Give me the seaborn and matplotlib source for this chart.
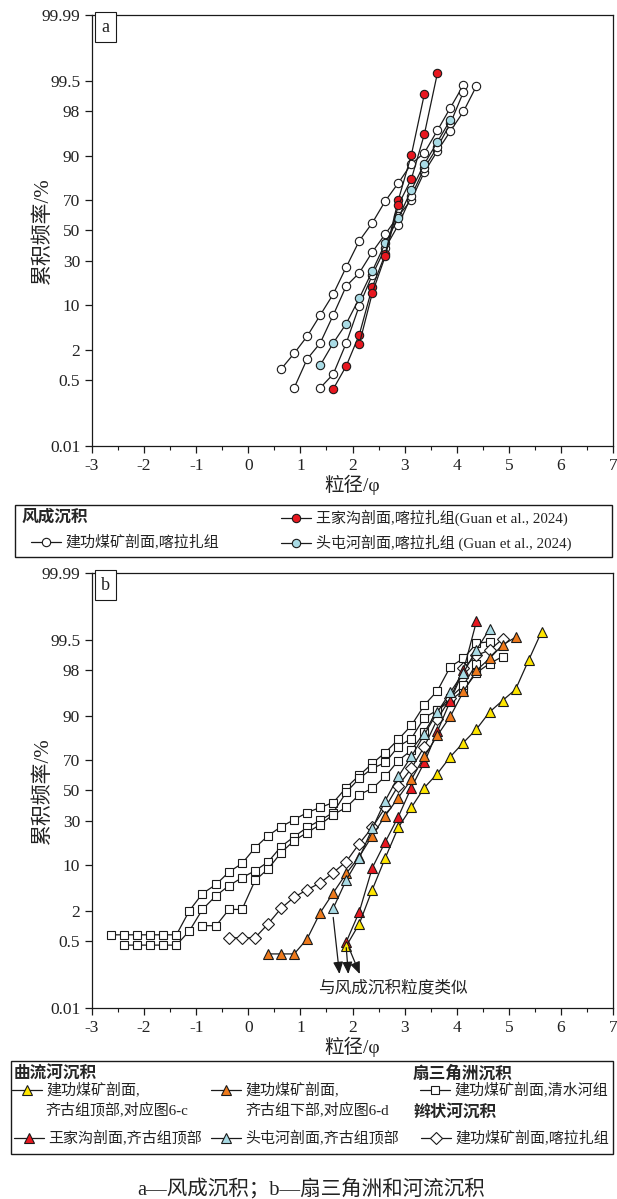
import numpy as np
import pandas as pd
import matplotlib
matplotlib.use("Agg")
import matplotlib.pyplot as plt
from matplotlib.lines import Line2D
from matplotlib.patches import Rectangle
import seaborn as sns
from statistics import NormalDist

# style first, fonts after (set_theme resets font.family)
sns.set_theme(style="ticks")
plt.rcParams['font.family'] = ['Liberation Serif', 'Noto Sans CJK SC']
plt.rcParams['axes.unicode_minus'] = False

# ---------------- data (phi, cumulative %) ----------------
# panel a: aeolian
A_JG1_PHI = [0.63, 0.88, 1.13, 1.38, 1.63, 1.88, 2.13, 2.38, 2.63, 2.88, 3.13, 3.38, 3.63, 3.88, 4.13]
A_JG1_PCT = [0.84, 1.7, 3.4, 7.2, 13.6, 26.4, 42.9, 55.2, 69.5, 79.4, 87.5, 91.0, 95.8, 98.3, 99.4]
A_JG2_PHI = [0.88, 1.13, 1.38, 1.63, 1.88, 2.13, 2.38, 2.63, 2.88, 3.13, 3.38, 3.63, 3.88, 4.13, 4.38]
A_JG2_PCT = [0.33, 1.33, 2.6, 7.2, 16.9, 23.2, 35.5, 47.6, 59.9, 70.2, 84.4, 91.5, 95.7, 98.0, 99.37]
A_JG3_PHI = [1.38, 1.63, 1.88, 2.13, 2.38, 2.63, 2.88, 3.13, 3.38, 3.63, 3.88, 4.13]
A_JG3_PCT = [0.33, 0.66, 2.6, 9.7, 22.1, 38.2, 53.8, 72.5, 86.0, 92.5, 96.8, 99.16]
A_WJG1_PHI = [1.63, 1.88, 2.13, 2.38, 2.63, 2.88, 3.13, 3.38]
A_WJG1_PCT = [0.31, 0.97, 3.6, 16.4, 34.2, 70.1, 90.4, 99.08]
A_WJG2_PHI = [2.13, 2.38, 2.63, 2.88, 3.13, 3.38, 3.63]
A_WJG2_PCT = [2.5, 14.0, 33.0, 67.0, 81.3, 95.2, 99.67]
A_TTH_PHI = [1.38, 1.63, 1.88, 2.13, 2.38, 2.63, 2.88, 3.13, 3.38, 3.63, 3.88]
A_TTH_PCT = [1.0, 2.6, 5.4, 12.1, 24.2, 41.4, 58.6, 75.8, 87.5, 93.7, 97.2]

# panel b: fan delta and fluvial
B_QS1_PHI = [-2.63, -2.38, -2.13, -1.88, -1.63, -1.38, -1.13, -0.88, -0.62, -0.37, -0.12, 0.13, 0.38, 0.63, 0.88,
             1.13, 1.38, 1.63, 1.88, 2.13, 2.38, 2.63, 2.88, 3.13, 3.38, 3.63, 3.88, 4.13, 4.38, 4.63]
B_QS1_PCT = [0.68, 0.68, 0.68, 0.68, 0.68, 0.68, 2.0, 3.9, 5.4, 8.2, 10.6, 16.4, 22.0, 26.8, 30.9,
             35.3, 38.6, 41.8, 52.0, 60.2, 67.8, 74.2, 80.9, 86.7, 92.8, 95.6, 98.3, 98.8, 99.41, 99.45]
B_QS2_PHI = [-2.38, -2.13, -1.88, -1.63, -1.38, -1.13, -0.88, -0.62, -0.37, -0.12, 0.13, 0.38, 0.63, 0.88, 1.13,
             1.38, 1.63, 1.88, 2.13, 2.38, 2.63, 2.88, 3.13, 3.38, 3.63, 3.88, 4.13, 4.38, 4.63, 4.88]
B_QS2_PCT = [0.41, 0.41, 0.41, 0.41, 0.41, 0.82, 2.1, 3.6, 5.2, 6.8, 8.5, 11.1, 16.9, 21.5, 26.4,
             30.5, 35.3, 48.8, 58.2, 64.7, 68.4, 77.4, 81.3, 89.4, 91.5, 93.8, 95.7, 97.8, 98.5, 98.9]
B_QS3_PHI = [-0.88, -0.62, -0.37, -0.12, 0.13, 0.38, 0.63, 0.88, 1.13, 1.38, 1.63, 1.88, 2.13, 2.38, 2.63,
             2.88, 3.13, 3.38, 3.63, 3.88, 4.13, 4.38]
B_QS3_PCT = [1.04, 1.04, 2.1, 2.1, 6.2, 9.0, 14.4, 19.6, 23.6, 28.0, 34.0, 38.6, 47.2, 51.4, 59.5,
             69.6, 75.4, 84.0, 91.5, 94.4, 96.4, 98.5]
B_KL_PHI = [-0.37, -0.12, 0.13, 0.38, 0.63, 0.88, 1.13, 1.38, 1.63, 1.88, 2.13, 2.38, 2.63, 2.88, 3.13,
            3.38, 3.63, 3.88, 4.13, 4.38, 4.63, 4.88]
B_KL_PCT = [0.59, 0.59, 0.59, 1.13, 2.2, 3.4, 4.5, 5.7, 8.0, 11.2, 18.2, 26.4, 38.6, 53.4, 64.7,
            77.4, 88.9, 94.3, 98.2, 98.96, 99.18, 99.52]
B_WJG_PHI = [1.88, 2.13, 2.38, 2.63, 2.88, 3.13, 3.38, 3.63, 3.88, 4.13, 4.38]
B_WJG_PCT = [0.48, 1.9, 9.3, 19.0, 32.7, 52.0, 68.5, 84.4, 93.8, 98.0, 99.81]
B_TTH_PHI = [1.63, 1.88, 2.13, 2.38, 2.63, 2.88, 3.13, 3.38, 3.63, 3.88, 4.13, 4.38, 4.63]
B_TTH_PCT = [2.2, 6.3, 12.5, 25.8, 43.2, 59.5, 72.0, 83.1, 91.0, 95.4, 97.8, 99.2, 99.71]
B_QGL_PHI = [0.38, 0.63, 0.88, 1.13, 1.38, 1.63, 1.88, 2.13, 2.38, 2.63, 2.88, 3.13, 3.38, 3.63, 3.88,
             4.13, 4.38, 4.63, 4.88, 5.13]
B_QGL_PCT = [0.26, 0.26, 0.26, 0.56, 1.83, 4.0, 7.8, 12.9, 22.0, 33.4, 45.2, 57.5, 72.0, 82.7, 89.8,
             95.5, 98.0, 98.8, 99.36, 99.56]
B_QGT_PHI = [1.88, 2.13, 2.38, 2.63, 2.88, 3.13, 3.38, 3.63, 3.88, 4.13, 4.38, 4.63, 4.88, 5.13, 5.38, 5.63]
B_QGT_PCT = [0.39, 1.13, 4.5, 12.5, 26.4, 38.6, 52.0, 61.4, 71.9, 79.4, 85.3, 91.0, 93.8, 95.8, 98.7, 99.67]

Y_TICKS = [0.01, 0.5, 2, 10, 30, 50, 70, 90, 98, 99.5, 99.99]
Y_TICKLABELS = ['0.01', '0.5', '2', '10', '30', '50', '70', '90', '98', '99.5', '99.99']
X_TICKS = [-3, -2, -1, 0, 1, 2, 3, 4, 5, 6, 7]

# arrows "similar to aeolian": (tail phi, tail %, head phi, head %)
ARROWS = [(1.63, 1.5, 1.75, 0.085), (1.88, 0.36, 1.92, 0.085), (1.93, 0.36, 2.14, 0.085)]

RED = '#e8171f'
LBLUE = '#a9dbe5'
YELLOW = '#ffe600'
ORANGE = '#ee7a1c'
EDGE = '#1a1a1a'

W, H = 617, 1199


def fx(px):
    return px / W


def fy(py):
    return 1 - py / H


_nd = NormalDist()
_ppf = np.vectorize(lambda v: _nd.inv_cdf(v), otypes=[float])
_cdf = np.vectorize(lambda v: _nd.cdf(v), otypes=[float])


def prob_fwd(p):
    p = np.clip(np.asarray(p, dtype=float), 1e-7, 100 - 1e-7)
    return _ppf(p / 100.0)


def prob_inv(z):
    return _cdf(np.asarray(z, dtype=float)) * 100.0


def draw_series(ax, phi, pct, marker, face, ms):
    df = pd.DataFrame({'phi': phi, 'pct': pct})
    sns.lineplot(data=df, x='phi', y='pct', ax=ax, sort=False, estimator=None,
                 color=EDGE, linewidth=0.9, marker=marker, markersize=ms,
                 markerfacecolor=face, markeredgecolor=EDGE, markeredgewidth=0.8,
                 legend=False)


def style_axes(ax, letter):
    ax.set_yscale('function', functions=(prob_fwd, prob_inv))
    ax.set_ylim(0.01, 99.99)
    ax.set_xlim(-3, 7)
    ax.set_yticks(Y_TICKS)
    ax.set_yticklabels(Y_TICKLABELS)
    ax.set_xticks(X_TICKS)
    ax.set_xticklabels([str(t) for t in X_TICKS])
    ax.set_xticks(np.arange(-2.5, 7, 1.0), minor=True)
    ax.set_yticks([], minor=True)
    ax.tick_params(axis='both', which='major', direction='out', length=5, width=0.9,
                   labelsize=12.5, labelcolor='#222222', color='k')
    ax.tick_params(axis='x', which='minor', direction='out', length=3, width=0.8, color='k')
    for s in ax.spines.values():
        s.set_visible(True)
        s.set_color('k')
        s.set_linewidth(0.9)
    ax.set_xlabel('粒径/φ', fontsize=14, labelpad=1, color='#222222')
    ax.set_ylabel('累积频率/%', fontsize=15, color='#222222')
    ax.yaxis.set_label_coords(-0.074, 0.5)
    ax.text(0.026, 0.972, letter, transform=ax.transAxes, ha='center', va='center',
            fontsize=13, color='#222222',
            bbox=dict(boxstyle='square,pad=0.35', fc='white', ec='k', lw=0.8))


def entry(handle, label, x_px, y_px, fs=10.8):
    fig.legend([handle], [label], loc='center left', bbox_to_anchor=(fx(x_px), fy(y_px)),
               frameon=False, borderpad=0, borderaxespad=0, handlelength=2.0,
               handletextpad=0.3, fontsize=fs, labelcolor='#222222')


def handle(marker, face, ms):
    return Line2D([], [], color=EDGE, lw=0.9, marker=marker, markersize=ms,
                  markerfacecolor=face, markeredgecolor=EDGE, markeredgewidth=0.8)


fig = plt.figure(figsize=(W / 100, H / 100), dpi=100)
fig.patch.set_facecolor('white')

ax_a = fig.add_axes([fx(92), fy(446), (613 - 92) / W, (446 - 15) / H])
ax_b = fig.add_axes([fx(92), fy(1008), (613 - 92) / W, (1008 - 573) / H])
style_axes(ax_a, 'a')
style_axes(ax_b, 'b')

# panel a
for phi, pct in [(A_JG1_PHI, A_JG1_PCT), (A_JG2_PHI, A_JG2_PCT), (A_JG3_PHI, A_JG3_PCT)]:
    draw_series(ax_a, phi, pct, 'o', 'white', 6)
draw_series(ax_a, A_TTH_PHI, A_TTH_PCT, 'o', LBLUE, 6)
draw_series(ax_a, A_WJG1_PHI, A_WJG1_PCT, 'o', RED, 6)
draw_series(ax_a, A_WJG2_PHI, A_WJG2_PCT, 'o', RED, 6)

# panel b
for phi, pct in [(B_QS1_PHI, B_QS1_PCT), (B_QS2_PHI, B_QS2_PCT), (B_QS3_PHI, B_QS3_PCT)]:
    draw_series(ax_b, phi, pct, 's', 'white', 5.5)
draw_series(ax_b, B_KL_PHI, B_KL_PCT, 'D', 'white', 6.3)
draw_series(ax_b, B_WJG_PHI, B_WJG_PCT, '^', RED, 7)
draw_series(ax_b, B_QGT_PHI, B_QGT_PCT, '^', YELLOW, 7)
draw_series(ax_b, B_QGL_PHI, B_QGL_PCT, '^', ORANGE, 7)
draw_series(ax_b, B_TTH_PHI, B_TTH_PCT, '^', LBLUE, 7)
for tx, ty, hx, hy in ARROWS:
    ax_b.annotate('', xy=(hx, hy), xytext=(tx, ty),
                  arrowprops=dict(arrowstyle='-|>,head_length=0.6,head_width=0.25',
                                  color='k', lw=0.9, shrinkA=0, shrinkB=0))
ax_b.text(2.77, 0.036, '与风成沉积粒度类似', ha='center', va='center', fontsize=12, color='#222222')

for ax in (ax_a, ax_b):
    ax.set_ylim(0.01, 99.99)
    ax.set_xlim(-3, 7)

# legend a
fig.patches.append(Rectangle((fx(15), fy(557)), (612 - 15) / W, (557 - 505) / H,
                             transform=fig.transFigure, fill=False, ec='k', lw=1.0))
fig.text(fx(22), fy(518), '风成沉积', fontsize=12, fontweight='bold', va='center', ha='left')
entry(handle('o', 'white', 6), '建功煤矿剖面,喀拉扎组', 31, 543)
entry(handle('o', RED, 6), '王家沟剖面,喀拉扎组(Guan et al., 2024)', 281, 518)
entry(handle('o', LBLUE, 6), '头屯河剖面,喀拉扎组 (Guan et al., 2024)', 281, 543)

# legend b
fig.patches.append(Rectangle((fx(11), fy(1154)), (613 - 11) / W, (1154 - 1061) / H,
                             transform=fig.transFigure, fill=False, ec='k', lw=1.0))
fig.text(fx(14), fy(1075), '曲流河沉积', fontsize=12, fontweight='bold', va='center', ha='left')
fig.text(fx(413), fy(1075), '扇三角洲沉积', fontsize=12, fontweight='bold', va='center', ha='left')
fig.text(fx(413), fy(1114), '辫状河沉积', fontsize=12, fontweight='bold', va='center', ha='left')
entry(handle('^', YELLOW, 7), '建功煤矿剖面,', 12, 1091)
fig.text(fx(45), fy(1110), '齐古组顶部,对应图6-c', fontsize=10.8, va='center', ha='left', color='#222222')
entry(handle('^', ORANGE, 7), '建功煤矿剖面,', 211, 1091)
fig.text(fx(245), fy(1110), '齐古组下部,对应图6-d', fontsize=10.8, va='center', ha='left', color='#222222')
entry(handle('s', 'white', 5.5), '建功煤矿剖面,清水河组', 420, 1091)
entry(handle('^', RED, 7), '王家沟剖面,齐古组顶部', 14, 1139)
entry(handle('^', LBLUE, 7), '头屯河剖面,齐古组顶部', 211, 1139)
entry(handle('D', 'white', 6.3), '建功煤矿剖面,喀拉扎组', 421, 1139)

fig.text(fx(311), fy(1189), 'a—风成沉积；b—扇三角洲和河流沉积', fontsize=14.8,
         ha='center', va='center', color='#222222')

fig.savefig('out.png', dpi=100, facecolor='white')
